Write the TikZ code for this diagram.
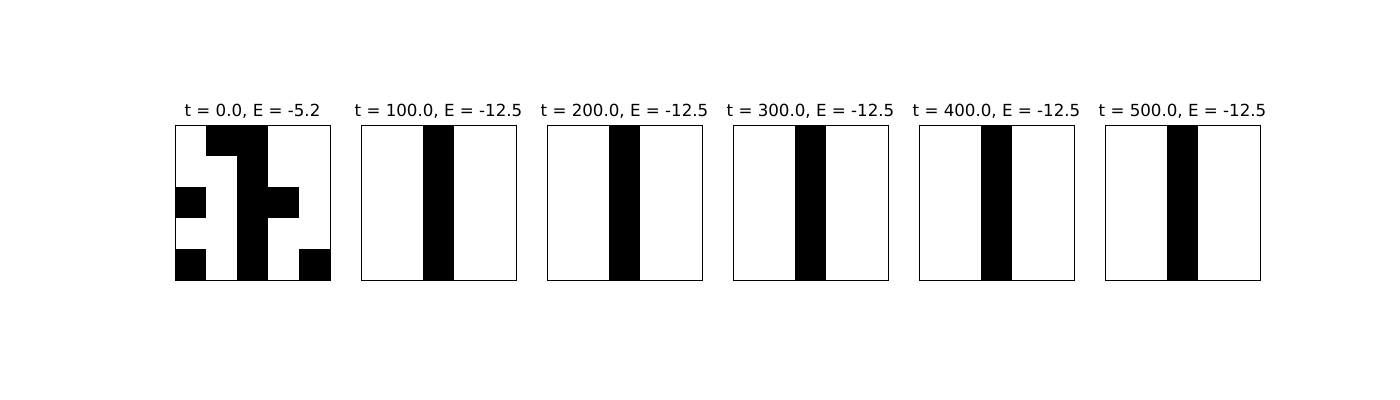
\documentclass[tikz,border=0pt]{standalone}
\usepackage{fontspec}
\setmainfont{DejaVu Sans}
\begin{document}
\begin{tikzpicture}[x=0.72pt,y=-0.72pt,
      cell style/.style={fill=black},
      frame style/.style={draw=black,line width=0.55pt},
      title style/.style={font=\fontsize{12}{14}\selectfont,anchor=base,inner sep=0pt}
      ]
      \useasboundingbox (0,0) rectangle (1400,400);

      % initial state
      \foreach \r/\c in {0/1,0/2,1/2,2/0,2/2,2/3,3/2,4/0,4/2,4/4}
        \fill[cell style] (175+31*\c,125+31*\r) rectangle ++(31,31);
      \draw[frame style] (175,125) rectangle (330,280);
      \node[title style] (title0) at (252.5,117) {t = 0.0, E = -5.2};

      % later states
      \foreach \i in {1,...,5}{
        \pgfmathtruncatemacro{\t}{100*\i}
        \fill[cell style] (175+186*\i+62,125) rectangle ++(31,155);
        \draw[frame style] (175+186*\i,125) rectangle ++(155,155);
        \node[title style] (title\i) at (252.5+186*\i,117) {t = \t.0, E = -12.5};
      }
    \end{tikzpicture}
\end{document}
